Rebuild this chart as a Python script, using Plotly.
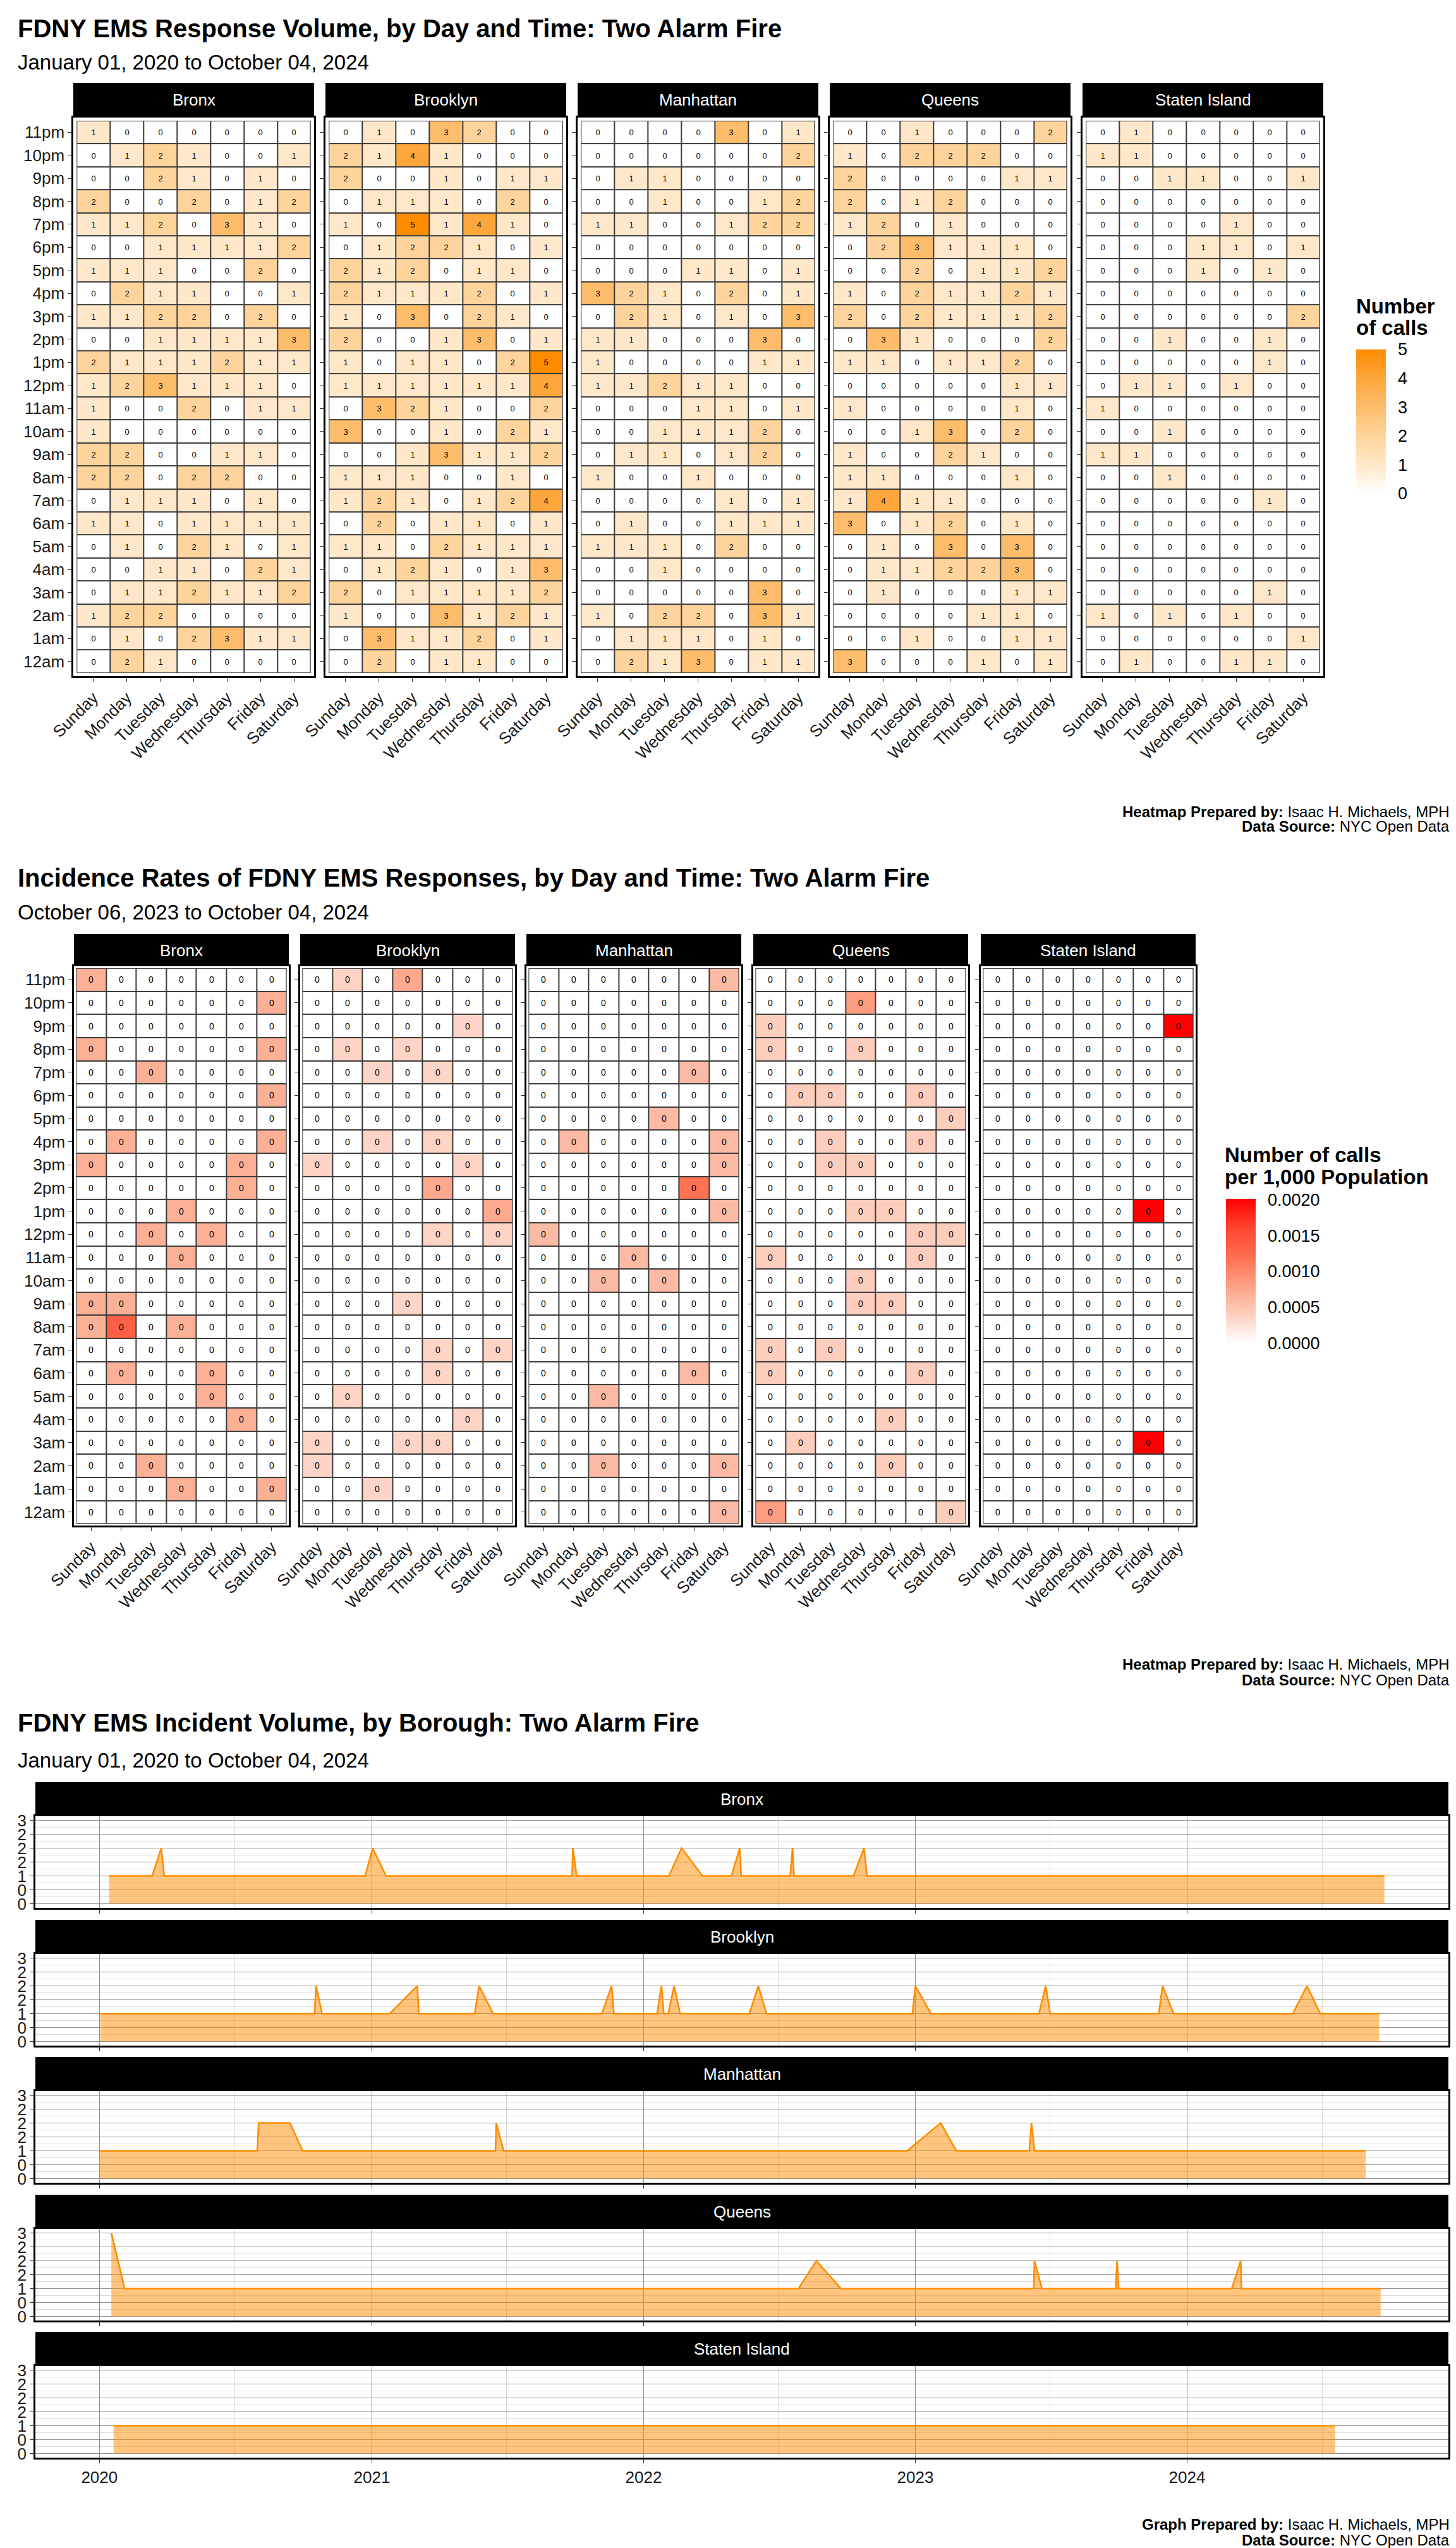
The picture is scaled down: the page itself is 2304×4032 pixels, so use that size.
import plotly.graph_objects as go

W, H = 2304, 4032
FONT = "Liberation Sans"

days = ["Sunday", "Monday", "Tuesday", "Wednesday", "Thursday", "Friday", "Saturday"]
hours = ["11pm", "10pm", "9pm", "8pm", "7pm", "6pm", "5pm", "4pm", "3pm", "2pm", "1pm", "12pm",
         "11am", "10am", "9am", "8am", "7am", "6am", "5am", "4am", "3am", "2am", "1am", "12am"]
boroughs = ["Bronx", "Brooklyn", "Manhattan", "Queens", "Staten Island"]

# ---- Heatmap 1: response counts, rows 11pm -> 12am, columns Sunday -> Saturday
bronx_calls = [
    [1, 0, 0, 0, 0, 0, 0], [0, 1, 2, 1, 0, 0, 1], [0, 0, 2, 1, 0, 1, 0], [2, 0, 0, 2, 0, 1, 2],
    [1, 1, 2, 0, 3, 1, 0], [0, 0, 1, 1, 1, 1, 2], [1, 1, 1, 0, 0, 2, 0], [0, 2, 1, 1, 0, 0, 1],
    [1, 1, 2, 2, 0, 2, 0], [0, 0, 1, 1, 1, 1, 3], [2, 1, 1, 1, 2, 1, 1], [1, 2, 3, 1, 1, 1, 0],
    [1, 0, 0, 2, 0, 1, 1], [1, 0, 0, 0, 0, 0, 0], [2, 2, 0, 0, 1, 1, 0], [2, 2, 0, 2, 2, 0, 0],
    [0, 1, 1, 1, 0, 1, 0], [1, 1, 0, 1, 1, 1, 1], [0, 1, 0, 2, 1, 0, 1], [0, 0, 1, 1, 0, 2, 1],
    [0, 1, 1, 2, 1, 1, 2], [1, 2, 2, 0, 0, 0, 0], [0, 1, 0, 2, 3, 1, 1], [0, 2, 1, 0, 0, 0, 0]]
brooklyn_calls = [
    [0, 1, 0, 3, 2, 0, 0], [2, 1, 4, 1, 0, 0, 0], [2, 0, 0, 1, 0, 1, 1], [0, 1, 1, 1, 0, 2, 0],
    [1, 0, 5, 1, 4, 1, 0], [0, 1, 2, 2, 1, 0, 1], [2, 1, 2, 0, 1, 1, 0], [2, 1, 1, 1, 2, 0, 1],
    [1, 0, 3, 0, 2, 1, 0], [2, 0, 0, 1, 3, 0, 1], [1, 0, 1, 1, 0, 2, 5], [1, 1, 1, 1, 1, 1, 4],
    [0, 3, 2, 1, 0, 0, 2], [3, 0, 0, 1, 0, 2, 1], [0, 0, 1, 3, 1, 1, 2], [1, 1, 1, 0, 0, 1, 0],
    [1, 2, 1, 0, 1, 2, 4], [0, 2, 0, 1, 1, 0, 1], [1, 1, 0, 2, 1, 1, 1], [0, 1, 2, 1, 0, 1, 3],
    [2, 0, 1, 1, 1, 1, 2], [1, 0, 0, 3, 1, 2, 1], [0, 3, 1, 1, 2, 0, 1], [0, 2, 0, 1, 1, 0, 0]]
manhattan_calls = [
    [0, 0, 0, 0, 3, 0, 1], [0, 0, 0, 0, 0, 0, 2], [0, 1, 1, 0, 0, 0, 0], [0, 0, 1, 0, 0, 1, 2],
    [1, 1, 0, 0, 1, 2, 2], [0, 0, 0, 0, 0, 0, 0], [0, 0, 0, 1, 1, 0, 1], [3, 2, 1, 0, 2, 0, 1],
    [0, 2, 1, 0, 1, 0, 3], [1, 1, 0, 0, 0, 3, 0], [1, 0, 0, 0, 0, 1, 1], [1, 1, 2, 1, 1, 0, 0],
    [0, 0, 0, 1, 1, 0, 1], [0, 0, 1, 1, 1, 2, 0], [0, 1, 1, 0, 1, 2, 0], [1, 0, 0, 1, 0, 0, 0],
    [0, 0, 0, 0, 1, 0, 1], [0, 1, 0, 0, 1, 1, 1], [1, 1, 1, 0, 2, 0, 0], [0, 0, 1, 0, 0, 0, 0],
    [0, 0, 0, 0, 0, 3, 0], [1, 0, 2, 2, 0, 3, 1], [0, 1, 1, 1, 0, 1, 0], [0, 2, 1, 3, 0, 1, 1]]
queens_calls = [
    [0, 0, 1, 0, 0, 0, 2], [1, 0, 2, 2, 2, 0, 0], [2, 0, 0, 0, 0, 1, 1], [2, 0, 1, 2, 0, 0, 0],
    [1, 2, 0, 1, 0, 0, 0], [0, 2, 3, 1, 1, 1, 0], [0, 0, 2, 0, 1, 1, 2], [1, 0, 2, 1, 1, 2, 1],
    [2, 0, 2, 1, 1, 1, 2], [0, 3, 1, 0, 0, 0, 2], [1, 1, 0, 1, 1, 2, 0], [0, 0, 0, 0, 0, 1, 1],
    [1, 0, 0, 0, 0, 1, 0], [0, 0, 1, 3, 0, 2, 0], [1, 0, 0, 2, 1, 0, 0], [1, 1, 0, 0, 0, 1, 0],
    [1, 4, 1, 1, 0, 0, 0], [3, 0, 1, 2, 0, 1, 0], [0, 1, 0, 3, 0, 3, 0], [0, 1, 1, 2, 2, 3, 0],
    [0, 1, 0, 0, 0, 1, 1], [0, 0, 0, 0, 1, 1, 0], [0, 0, 1, 0, 0, 1, 1], [3, 0, 0, 0, 1, 0, 1]]
staten_calls = [
    [0, 1, 0, 0, 0, 0, 0], [1, 1, 0, 0, 0, 0, 0], [0, 0, 1, 1, 0, 0, 1], [0, 0, 0, 0, 0, 0, 0],
    [0, 0, 0, 0, 1, 0, 0], [0, 0, 0, 1, 1, 0, 1], [0, 0, 0, 1, 0, 1, 0], [0, 0, 0, 0, 0, 0, 0],
    [0, 0, 0, 0, 0, 0, 2], [0, 0, 1, 0, 0, 1, 0], [0, 0, 0, 0, 0, 1, 0], [0, 1, 1, 0, 1, 0, 0],
    [1, 0, 0, 0, 0, 0, 0], [0, 0, 1, 0, 0, 0, 0], [1, 1, 0, 0, 0, 0, 0], [0, 0, 1, 0, 0, 0, 0],
    [0, 0, 0, 0, 0, 1, 0], [0, 0, 0, 0, 0, 0, 0], [0, 0, 0, 0, 0, 0, 0], [0, 0, 0, 0, 0, 0, 0],
    [0, 0, 0, 0, 0, 1, 0], [1, 0, 1, 0, 1, 0, 0], [0, 0, 0, 0, 0, 0, 1], [0, 1, 0, 0, 1, 1, 0]]

# ---- Heatmap 2: last-year counts used for the rates (rows 11pm -> 12am)
Z7 = [0, 0, 0, 0, 0, 0, 0]
bronx_recent = [
    [1, 0, 0, 0, 0, 0, 0], [0, 0, 0, 0, 0, 0, 1], Z7, [1, 0, 0, 0, 0, 0, 1],
    [0, 0, 1, 0, 0, 0, 0], [0, 0, 0, 0, 0, 0, 1], Z7, [0, 1, 0, 0, 0, 0, 1],
    [1, 0, 0, 0, 0, 1, 0], [0, 0, 0, 0, 0, 1, 0], [0, 0, 0, 1, 0, 0, 0], [0, 0, 1, 0, 1, 0, 0],
    [0, 0, 0, 1, 0, 0, 0], Z7, [1, 1, 0, 0, 0, 0, 0], [1, 2, 0, 1, 0, 0, 0],
    Z7, [0, 1, 0, 0, 1, 0, 0], [0, 0, 0, 0, 1, 0, 0], [0, 0, 0, 0, 0, 1, 0],
    Z7, [0, 0, 1, 0, 0, 0, 0], [0, 0, 0, 1, 0, 0, 1], Z7]
brooklyn_recent = [
    [0, 1, 0, 2, 0, 0, 0], Z7, [0, 0, 0, 0, 0, 1, 0], [0, 1, 0, 1, 0, 0, 0],
    [0, 0, 1, 0, 1, 0, 0], Z7, Z7, [0, 0, 1, 0, 1, 0, 0],
    [1, 0, 0, 0, 0, 1, 0], [0, 0, 0, 0, 2, 0, 0], [0, 0, 0, 0, 0, 0, 2], [0, 0, 0, 0, 1, 0, 1],
    Z7, Z7, [0, 0, 0, 1, 0, 0, 0], Z7,
    [0, 0, 0, 0, 1, 0, 1], [0, 0, 0, 0, 1, 0, 0], [0, 1, 0, 0, 0, 0, 0], [0, 0, 0, 0, 0, 1, 0],
    [1, 0, 0, 1, 1, 0, 0], [1, 0, 0, 0, 0, 0, 0], [0, 0, 1, 0, 0, 0, 0], Z7]
manhattan_recent = [
    [0, 0, 0, 0, 0, 0, 1], Z7, Z7, Z7,
    [0, 0, 0, 0, 0, 1, 0], Z7, [0, 0, 0, 0, 1, 0, 0], [0, 1, 0, 0, 0, 0, 1],
    [0, 0, 0, 0, 0, 0, 1], [0, 0, 0, 0, 0, 2, 0], [0, 0, 0, 0, 0, 0, 1], [1, 0, 0, 0, 0, 0, 0],
    [0, 0, 0, 1, 0, 0, 0], [0, 0, 1, 0, 1, 0, 0], Z7, Z7,
    Z7, [0, 0, 0, 0, 0, 1, 0], [0, 0, 1, 0, 0, 0, 0], Z7,
    Z7, [0, 0, 1, 0, 0, 0, 1], Z7, [0, 0, 0, 0, 0, 0, 1]]
queens_recent = [
    Z7, [0, 0, 0, 2, 0, 0, 0], [1, 0, 0, 0, 0, 0, 0], [1, 0, 0, 1, 0, 0, 0],
    Z7, [0, 1, 1, 0, 0, 1, 0], [0, 0, 0, 0, 0, 0, 1], [0, 0, 1, 0, 0, 1, 0],
    [0, 0, 1, 1, 0, 0, 0], Z7, [0, 0, 0, 1, 1, 0, 0], [0, 0, 0, 0, 0, 1, 1],
    [1, 0, 0, 0, 0, 1, 0], [0, 0, 0, 1, 0, 0, 0], [0, 0, 0, 1, 1, 0, 0], Z7,
    [1, 0, 1, 0, 0, 0, 0], [1, 0, 0, 0, 0, 1, 0], Z7, [0, 0, 0, 0, 1, 0, 0],
    [0, 1, 0, 0, 0, 0, 0], [0, 0, 0, 0, 1, 0, 0], Z7, [2, 0, 0, 0, 0, 0, 1]]
staten_recent = [
    Z7, Z7, [0, 0, 0, 0, 0, 0, 1], Z7, Z7, Z7, Z7, Z7, Z7, Z7, [0, 0, 0, 0, 0, 1, 0], Z7,
    Z7, Z7, Z7, Z7, Z7, Z7, Z7, Z7, [0, 0, 0, 0, 0, 1, 0], Z7, Z7, Z7]
population = [1472654, 2736074, 1694251, 2405464, 495747]

# ---- Line chart: incident dates and daily counts per borough
bronx_dates = ["2020-01-14", "2020-03-12", "2020-03-24", "2020-03-28", "2020-12-23", "2021-01-02",
               "2021-01-20", "2021-09-27", "2021-09-28", "2021-10-03", "2022-02-04", "2022-02-21",
               "2022-03-21", "2022-04-29", "2022-05-10", "2022-05-12", "2022-07-17", "2022-07-20",
               "2022-07-22", "2022-10-10", "2022-10-24", "2022-10-28", "2024-09-22"]
bronx_counts = [1, 1, 2, 1, 1, 2, 1, 1, 2, 1, 1, 2, 1, 1, 2, 1, 1, 2, 1, 1, 2, 1, 1]
brooklyn_dates = ["2020-01-02", "2020-10-16", "2020-10-18", "2020-10-26", "2021-01-25", "2021-03-03",
                  "2021-03-05", "2021-05-19", "2021-05-25", "2021-06-13", "2021-11-06", "2021-11-19",
                  "2021-11-22", "2022-01-19", "2022-01-25", "2022-01-28", "2022-02-03", "2022-02-11",
                  "2022-02-19", "2022-05-23", "2022-06-04", "2022-06-15", "2022-12-28", "2023-01-01",
                  "2023-01-22", "2023-06-16", "2023-06-25", "2023-07-01", "2023-11-24", "2023-11-29",
                  "2023-12-14", "2024-05-22", "2024-06-10", "2024-06-28", "2024-09-15"]
brooklyn_counts = [1, 1, 2, 1, 1, 2, 1, 1, 2, 1, 1, 2, 1, 1, 2, 1, 1, 2, 1, 1, 2, 1, 1, 2, 1,
                   1, 2, 1, 1, 2, 1, 1, 2, 1, 1]
manhattan_dates = ["2020-01-01", "2020-07-31", "2020-08-02", "2020-09-13", "2020-09-30", "2021-06-16",
                   "2021-06-17", "2021-06-27", "2022-12-21", "2023-02-04", "2023-02-25", "2023-06-03",
                   "2023-06-06", "2023-06-10", "2024-08-28"]
manhattan_counts = [1, 1, 2, 2, 1, 1, 2, 1, 1, 2, 1, 1, 2, 1, 1]
queens_dates = ["2020-01-17", "2020-02-04", "2022-07-28", "2022-08-21", "2022-09-23", "2023-06-09",
                "2023-06-10", "2023-06-20", "2023-09-27", "2023-09-29", "2023-10-01", "2024-03-01",
                "2024-03-13", "2024-03-14", "2024-09-17"]
queens_counts = [3, 1, 1, 2, 1, 1, 2, 1, 1, 2, 1, 1, 2, 1, 1]
staten_dates = ["2020-01-20", "2024-07-18"]
staten_counts = [1, 1]

year_ticks = ["2020-01-01", "2021-01-01", "2022-01-01", "2023-01-01", "2024-01-01"]
year_labels = ["2020", "2021", "2022", "2023", "2024"]
mid_years = ["2020-07-01", "2021-07-01", "2022-07-01", "2023-07-01", "2024-07-01"]
y_ticks = [0, 0.5, 1, 1.5, 2, 2.5, 3]
y_labels = ["0", "0", "1", "2", "2", "2", "3"]
rate_ticks = [0, 0.0005, 0.001, 0.0015, 0.002]

calls_all = [bronx_calls, brooklyn_calls, manhattan_calls, queens_calls, staten_calls]
recent_all = [bronx_recent, brooklyn_recent, manhattan_recent, queens_recent, staten_recent]
line_dates = [bronx_dates, brooklyn_dates, manhattan_dates, queens_dates, staten_dates]
line_counts = [bronx_counts, brooklyn_counts, manhattan_counts, queens_counts, staten_counts]


def X(px):
    return px / W


def Y(py):
    return 1 - py / H


orange_scale = [[0, "#FFFFFF"], [0.2, "#FFE8C9"], [0.4, "#FED49C"], [0.6, "#FDBD6B"],
                [0.8, "#FCA63C"], [1, "#FF8C00"]]
red_scale = [[0, "#FFFFFF"], [0.18, "#FDD4C6"], [0.34, "#FCAF95"], [0.6, "#FF6E50"],
             [0.8, "#FF4530"], [1, "#FF0000"]]

fig = go.Figure()
shapes = []
annotations = []
layout = {}
tickfont = dict(family=FONT, size=26, color="#1a1a1a")


def strip(x0, x1, y0, y1, text):
    shapes.append(dict(type="rect", xref="paper", yref="paper", x0=X(x0), x1=X(x1),
                       y0=Y(y1), y1=Y(y0), fillcolor="black", line=dict(width=0)))
    annotations.append(dict(xref="paper", yref="paper", x=X((x0 + x1) / 2), y=Y((y0 + y1) / 2),
                            text=text, showarrow=False, xanchor="center", yanchor="middle",
                            font=dict(family=FONT, size=26, color="white")))


def heat_panels(start, data_list, x0s, width, ytop, ybot, strip_top, coloraxis, tmpl, tsize,
                xpad, ypad):
    for i, data in enumerate(data_list):
        n = start + i
        xa, ya = "xaxis%d" % n, "yaxis%d" % n
        fig.add_trace(go.Heatmap(
            x=list(range(7)), y=list(range(24)), z=data, coloraxis=coloraxis,
            xaxis="x%d" % n, yaxis="y%d" % n, xgap=2, ygap=2,
            texttemplate=tmpl, textfont=dict(family=FONT, size=tsize, color="black"),
            hoverinfo="skip"))
        shapes.append(dict(type="rect", xref="x%d" % n, yref="y%d" % n, x0=-0.5, x1=6.5,
                           y0=-0.5, y1=23.5, fillcolor="#3a3a3a", line=dict(width=0),
                           layer="below"))
        layout[xa] = dict(domain=[X(x0s[i]), X(x0s[i] + width)], range=[-0.5 - xpad, 6.5 + xpad],
                          anchor="y%d" % n, tickvals=list(range(7)), ticktext=days,
                          tickangle=-45, tickfont=tickfont, ticks="outside", ticklen=6,
                          tickcolor="#333", showgrid=False, zeroline=False, showline=True,
                          mirror=True, linecolor="black", linewidth=2.5, automargin=False)
        layout[ya] = dict(domain=[Y(ybot), Y(ytop)], range=[23.5 + ypad, -0.5 - ypad],
                          anchor="x%d" % n, tickvals=list(range(24)), ticktext=hours,
                          showticklabels=(i == 0), tickfont=tickfont, ticks="outside",
                          ticklen=6, tickcolor="#333", showgrid=False, zeroline=False,
                          showline=True, mirror=True, linecolor="black", linewidth=2.5,
                          automargin=False)
        strip(x0s[i], x0s[i] + width, strip_top, ytop, boroughs[i])


# Heatmap 1
heat_panels(1, calls_all, [108, 507, 906, 1305, 1705], 381, 178, 1062, 123, "coloraxis",
            "%{z}", 13, 0.1, 0.14)

# Heatmap 2 (rates per 1,000 population)
rates_all = []
for data, pop in zip(recent_all, population):
    rates_all.append([[c * 1000.0 / pop for c in row] for row in data])
rate_max = max(max(max(r) for r in m) for m in rates_all)
heat_panels(6, rates_all, [109, 467, 825, 1184, 1544], 340, 1521, 2406, 1470, "coloraxis2",
            "%{z:.0f}", 14, 0.07, 0.08)

# Line chart
line_top = [2866, 3084, 3301, 3519, 3736]
line_h = 145
for i in range(5):
    n = 11 + i
    fig.add_trace(go.Scatter(
        x=line_dates[i], y=line_counts[i], mode="lines", xaxis="x%d" % n, yaxis="y%d" % n,
        line=dict(color="#FF8C00", width=2.6), fill="tozeroy",
        fillcolor="rgba(255,140,0,0.5)", hoverinfo="skip"))
    layout["xaxis%d" % n] = dict(
        domain=[X(48), X(2284)], anchor="y%d" % n, type="date",
        range=["2019-10-07", "2024-12-17"], tickvals=year_ticks, ticktext=year_labels,
        showticklabels=(i == 4), tickfont=tickfont, ticks="outside", ticklen=6,
        tickcolor="#333", showgrid=True, gridcolor="#8f8f8f", gridwidth=1,
        minor=dict(tickvals=mid_years, showgrid=True, gridcolor="#dadada", gridwidth=1),
        zeroline=False, showline=True, mirror=True, linecolor="black", linewidth=2.5,
        automargin=False)
    layout["yaxis%d" % n] = dict(
        domain=[Y(line_top[i] + line_h), Y(line_top[i])], anchor="x%d" % n,
        range=[-0.15, 3.15], tickvals=y_ticks, ticktext=y_labels, tickfont=tickfont,
        ticks="outside", ticklen=6, tickcolor="#333", showgrid=True, gridcolor="#8f8f8f",
        gridwidth=1, minor=dict(tickvals=[0.25, 0.75, 1.25, 1.75, 2.25, 2.75], showgrid=True,
                                gridcolor="#dadada", gridwidth=1),
        zeroline=False, showline=True, mirror=True, linecolor="black", linewidth=2.5,
        automargin=False)
    strip(48, 2284, line_top[i] - 54, line_top[i], boroughs[i])


def text(x, y, s, size, bold=False, anchor="left", color="black"):
    annotations.append(dict(xref="paper", yref="paper", x=X(x), y=Y(y),
                            text=("<b>%s</b>" % s) if bold else s, showarrow=False,
                            xanchor=anchor, yanchor="middle",
                            font=dict(family=FONT, size=size, color=color)))


# Titles
text(18, 37, "FDNY EMS Response Volume, by Day and Time: Two Alarm Fire", 40, True)
text(18, 91, "January 01, 2020 to October 04, 2024", 33)
text(18, 1381, "Incidence Rates of FDNY EMS Responses, by Day and Time: Two Alarm Fire", 40, True)
text(18, 1435, "October 06, 2023 to October 04, 2024", 33)
text(18, 2718, "FDNY EMS Incident Volume, by Borough: Two Alarm Fire", 40, True)
text(18, 2777, "January 01, 2020 to October 04, 2024", 33)

# Legend titles
text(2136, 477, "Number", 33, True)
text(2136, 510, "of calls", 33, True)
text(1928, 1820, "Number of calls", 33, True)
text(1928, 1854, "per 1,000 Population", 33, True)

# Captions
text(2288, 1276, "<b>Heatmap Prepared by:</b> Isaac H. Michaels, MPH", 24, anchor="right")
text(2288, 1300, "<b>Data Source:</b> NYC Open Data", 24, anchor="right")
text(2288, 2625, "<b>Heatmap Prepared by:</b> Isaac H. Michaels, MPH", 24, anchor="right")
text(2288, 2650, "<b>Data Source:</b> NYC Open Data", 24, anchor="right")
text(2288, 3986, "<b>Graph Prepared by:</b> Isaac H. Michaels, MPH", 24, anchor="right")
text(2288, 4011, "<b>Data Source:</b> NYC Open Data", 24, anchor="right")

cb_common = dict(thickness=47, thicknessmode="pixels", lenmode="fraction", xanchor="left",
                 yanchor="middle", xpad=0, ypad=0, outlinewidth=0, ticks="outside",
                 ticklen=14, tickcolor="rgba(0,0,0,0)",
                 tickfont=dict(family=FONT, size=27, color="black"))

fig.update_layout(
    width=W, height=H, margin=dict(l=0, r=0, t=0, b=0, pad=0, autoexpand=False),
    paper_bgcolor="white", plot_bgcolor="white", showlegend=False,
    font=dict(family=FONT),
    coloraxis=dict(cmin=0, cmax=5, colorscale=orange_scale,
                   colorbar=dict(x=X(2138), y=Y(659), len=228 / H, tickvals=[0, 1, 2, 3, 4, 5],
                                 **cb_common)),
    coloraxis2=dict(cmin=0, cmax=rate_max, colorscale=red_scale,
                    colorbar=dict(x=X(1932), y=Y(2003), len=229 / H, tickvals=rate_ticks,
                                  tickformat=".4f", **cb_common)),
    shapes=shapes, annotations=annotations, **layout)

fig.write_html("out.html", config={"responsive": False})
